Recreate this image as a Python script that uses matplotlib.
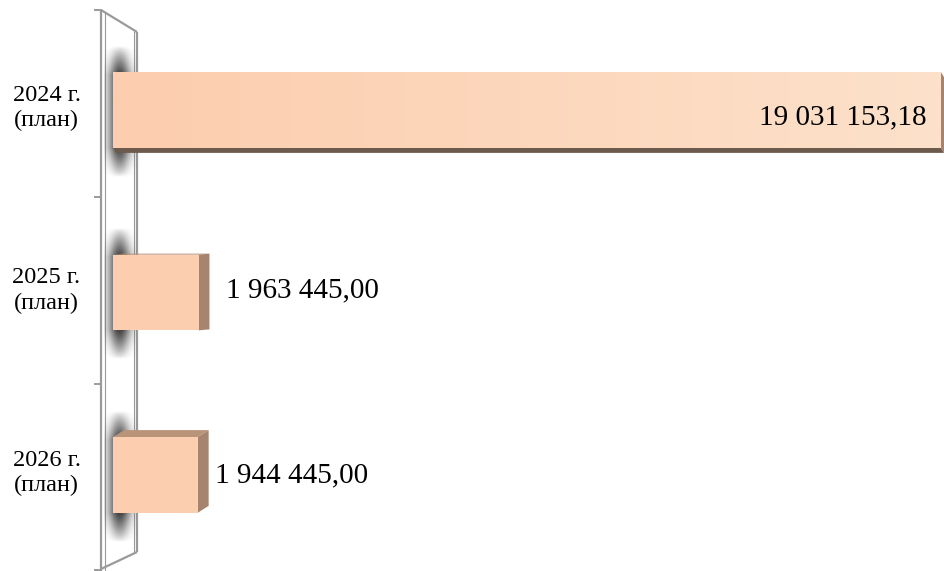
import numpy as np
import matplotlib
matplotlib.use("Agg")
import matplotlib.pyplot as plt
from matplotlib.patches import Polygon
from matplotlib.colors import to_rgb

# ---- data ----
categories = ["2024 г.\n(план)", "2025 г.\n(план)", "2026 г.\n(план)"]
values = [19031153.18, 1963445.00, 1944445.00]
value_labels = ["19 031 153,18", "1 963 445,00", "1 944 445,00"]

# ---- layout (pixel helpers) ----
W, H = 945, 571
plt.rcParams['font.family'] = ['Liberation Serif', 'DejaVu Serif']
fig = plt.figure(figsize=(W / 100, H / 100), dpi=100)
ax = fig.add_axes([0, 0, 1, 1])

X0PX = 113.0
SCALE = (941.0 - X0PX) / max(values)     # px per unit
Y0PX, STEP = 110.0, 182.5


def X(px):
    return (px - X0PX) / SCALE


def Y(py):
    return (py - Y0PX) / STEP


def dxd(px):
    return px / SCALE


def dyd(py):
    return py / STEP


ax.set_xlim(X(0), X(W))
ax.set_ylim(Y(H), Y(0))
ax.axis("off")

# ---- wall ----
wall_col = "#9a9a9a"
ax.add_patch(Polygon([(X(101), Y(10)), (X(137), Y(32)), (X(137), Y(552)),
                      (X(101), Y(571))], closed=True, facecolor="white",
                     edgecolor="none", zorder=0))
for xs, ys, lw in [([101, 101], [10, 575], 1.6), ([104.5, 104.5], [12, 575], 0.8),
                   ([137, 137], [32, 552], 1.6), ([134, 134], [31, 553], 0.8),
                   ([101, 137], [10, 32], 1.6), ([137, 101], [552, 569], 1.6)]:
    ax.plot([X(v) for v in xs], [Y(v) for v in ys], color=wall_col, lw=lw,
            zorder=1, solid_capstyle="butt")
for ty in [10, 197, 384, 570]:
    ax.plot([X(95), X(101)], [Y(ty), Y(ty)], color=wall_col, lw=1.4, zorder=1)

# ---- bars ----
bar_h = 0.415
left_col = np.array(to_rgb("#FCCDAE"))
right_col = np.array(to_rgb("#FDE1CA"))
side_col = "#A6846E"
top_col = "#B99479"
bottom_col = "#6C5A4D"

for i, (v, lab) in enumerate(zip(values, value_labels)):
    yt, yb = i - bar_h / 2, i + bar_h / 2
    cy_px = Y0PX + STEP * i
    right_px = X0PX + v * SCALE
    ddx = dxd(0.0108 * (1220 - right_px))
    ddy = dyd(-(cy_px - 262) * 0.033)

    # shadow on wall
    sh_top, sh_bot = Y0PX + STEP * yt - 26, Y0PX + STEP * yb + 29
    ny, nx = 240, 80
    yy = np.linspace(0, 1, ny)[:, None]
    xx = np.linspace(-1, 1, nx)[None, :]
    ey = np.clip(np.minimum(yy, 1 - yy) / 0.22, 0, 1)
    width = 0.38 + 0.3 * np.sqrt(ey)
    a = np.exp(-(np.abs(xx + 0.05) / width) ** 2) * ey ** 0.8
    img = np.zeros((ny, nx, 4))
    img[..., :3] = 0.28
    img[..., 3] = np.clip(a * 1.05, 0, 1)
    ax.imshow(img, extent=[X(104), X(137), Y(sh_bot), Y(sh_top)],
              aspect="auto", zorder=2, interpolation="bilinear")

    # back faces
    if ddy > 0:
        ax.add_patch(Polygon([(0, yb), (v, yb), (v + ddx, yb + ddy), (ddx, yb + ddy)],
                             closed=True, facecolor=bottom_col, edgecolor="none", zorder=3))
    else:
        ax.add_patch(Polygon([(0, yt), (v, yt), (v + ddx, yt + ddy), (ddx, yt + ddy)],
                             closed=True, facecolor=top_col, edgecolor="none", zorder=3))
    ax.add_patch(Polygon([(v, yt), (v, yb), (v + ddx, yb + ddy), (v + ddx, yt + ddy)],
                         closed=True, facecolor=side_col, edgecolor="none", zorder=3))

    # front face with gradient
    rect = ax.barh(i, v, height=bar_h, left=0, color="none", zorder=4)[0]
    f = np.linspace(0, v / max(values), 100)
    grad = left_col[None, :] + (right_col - left_col)[None, :] * f[:, None]
    gimg = np.repeat(grad[None, :, :], 2, axis=0)
    im = ax.imshow(gimg, extent=[0, v, yb, yt], aspect="auto", zorder=4,
                   interpolation="bilinear")
    im.set_clip_path(rect)

    # category label
    ax.text(X(46.5), i - 0.01, categories[i], ha="center", va="center",
            fontsize=17.5, linespacing=1.28, color="black")

# value labels
offsets = [(-14, 7), (28, -2), (17, 0)]
for i, (v, lab) in enumerate(zip(values, value_labels)):
    ox, oy = offsets[i]
    ax.annotate(lab, xy=(v, i), xytext=(ox * 0.72, -oy * 0.72),
                textcoords="offset points", ha="right" if ox < 0 else "left",
                va="center", fontsize=21, color="black", zorder=6)

fig.savefig("out.png", dpi=100)
